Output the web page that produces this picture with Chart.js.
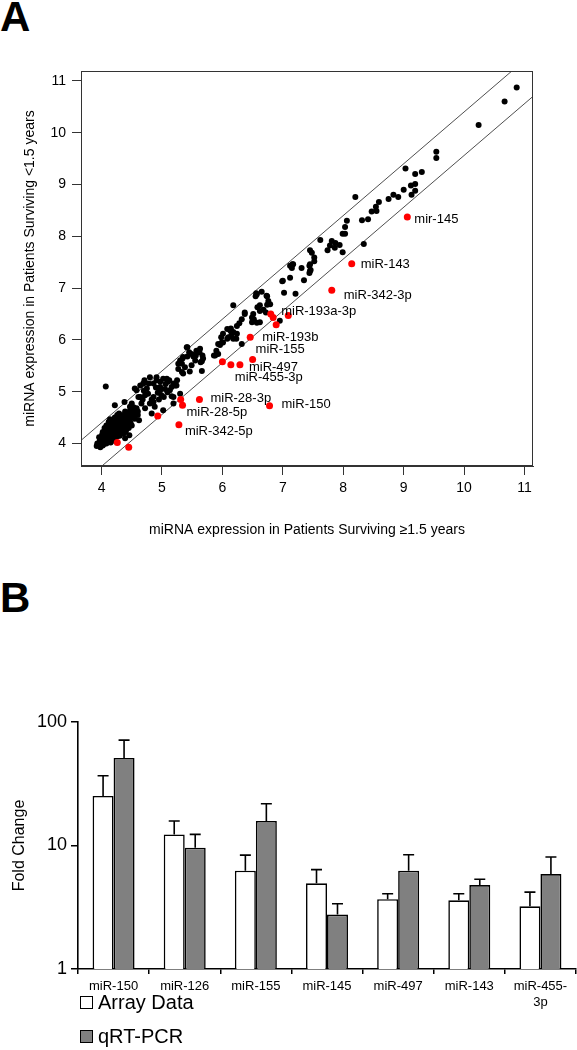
<!DOCTYPE html>
<html><head><meta charset="utf-8">
<script src="https://cdn.jsdelivr.net/npm/chart.js@4.4.0/dist/chart.umd.min.js"></script>
<style>
html,body{margin:0;padding:0;background:#fff;}
body{width:577px;height:1050px;position:relative;overflow:hidden;font-family:"Liberation Sans",Arial,sans-serif;}
.panel{position:absolute;left:0;font-weight:bold;font-size:42px;line-height:1;color:#000;}
#wa{position:absolute;left:0;top:0;width:577px;height:560px;}
#wb{position:absolute;left:0;top:560px;width:577px;height:490px;}
</style></head><body>
<div class="panel" style="top:-4px">A</div>
<div class="panel" style="top:577px">B</div>
<div id="wa"><canvas id="ca" width="577" height="560"></canvas></div>
<div id="wb"><canvas id="cb" width="577" height="490"></canvas></div>
<script>
// ---------- Panel A data ----------
const scatterTicks = [4, 5, 6, 7, 8, 9, 10, 11];
const bandOffsets = [0.4, -0.44];
const blackPoints = [
 [10.87,10.87],[10.67,10.60],[10.24,10.15],[9.54,9.63],[9.54,9.51],[9.03,9.31],[9.30,9.24],[9.19,9.20],[9.19,9.01],[9.19,8.88],
 [9.13,8.80],[9.12,8.98],[9.00,8.90],[8.91,8.76],[8.83,8.80],[8.75,8.72],[8.59,8.66],[8.54,8.57],[8.47,8.48],[8.55,8.49],
 [8.20,8.76],[8.41,8.33],[8.31,8.31],[8.06,8.30],[8.03,8.18],[7.99,8.05],[8.03,8.05],[8.34,7.85],[7.62,7.93],[7.81,7.91],
 [7.87,7.87],[7.78,7.82],[7.74,7.73],[7.94,7.83],[7.99,7.69],[7.45,7.73],[7.52,7.59],[7.86,7.78],
 [7.52,7.52],[7.45,7.46],[7.46,7.35],[7.44,7.29],[7.31,7.39],[7.16,7.46],[7.15,7.39],[7.12,7.20],[7.35,7.15],[6.99,7.13],
 [7.02,6.91],[7.21,6.89],[6.65,6.93],[6.56,6.90],[6.55,6.84],[6.74,6.84],[6.79,6.69],[6.74,6.68],[6.62,6.67],[6.18,6.67],
 [6.58,6.63],[6.62,6.56],[6.72,6.53],[6.49,6.43],[6.52,6.40],[6.37,6.50],[6.62,6.34],[6.57,6.33],[6.28,6.32],[6.24,6.27],
 [6.14,6.22],[6.08,6.21],[6.18,6.15],[6.15,6.10],[6.18,6.02],[6.08,6.02],[6.01,5.95],[5.96,5.90],[5.98,6.05],[5.93,5.92],
 [6.32,5.92],[6.23,6.02],[5.93,5.73],[5.88,5.70],[5.63,5.83],[5.57,5.79],[5.62,5.76],[5.67,5.70],[5.68,5.64],[5.56,5.70],
 [5.42,5.86],[5.45,5.76],[5.52,5.68],[5.42,5.68],[5.34,5.64],[5.33,5.54],[5.27,5.44],[5.33,5.38],[5.35,5.35],[5.64,5.57],
 [5.49,5.51],[5.46,5.39],[5.66,5.40],[5.66,5.59],[5.55,5.60],[5.49,5.73],[5.86,5.70],[5.90,5.79],[5.99,5.95],[6.01,6.12],
 [6.13,6.18],[6.10,6.05],[6.24,6.12],[6.32,6.40],[6.37,6.53],[6.51,6.50],[6.57,6.88],[6.73,6.85],[6.68,6.58],[6.76,6.75],
 [7.00,7.14],[7.12,7.43],[7.17,7.46],[7.44,7.43],[7.45,7.33],[7.48,7.68],[6.95,6.37],[6.49,6.34],
 [4.07,5.10],[4.22,4.74],[4.38,4.80],[4.50,4.77],[4.55,5.06],[4.64,5.12],[4.71,5.22],[4.78,5.16],[4.75,5.06],[4.86,5.16],
 [4.91,5.22],[4.97,5.09],[5.02,5.25],[5.10,5.19],[5.16,5.09],[5.22,5.12],[5.09,4.99],[4.99,4.93],[4.86,4.90],[4.72,4.93],
 [4.61,4.90],[4.66,4.77],[4.80,4.77],[4.72,4.68],[4.58,4.68],[4.88,4.71],[5.16,4.91],[5.19,4.77],[5.02,4.64],[4.83,4.58],
 [4.46,4.16],[4.39,4.10],[4.58,5.03],[4.69,5.16],[4.80,5.28],[4.91,5.28],[4.97,5.19],[5.08,5.25],[5.19,5.16],[5.24,5.12],
 [4.97,5.03],[4.77,4.96],[4.64,4.90],[4.47,4.71],[5.13,5.03],[5.03,4.90],[4.86,4.80],[5.19,4.90],[5.41,5.86],[5.35,5.67],
 [5.30,5.60],[5.38,5.47],[5.27,5.54],[5.30,4.96],
 [4.68,4.85],[4.83,4.85],[4.93,4.98],[5.05,5.05],[4.70,5.02],[4.90,5.08],[5.06,5.15],[4.95,4.85],[4.60,4.62],[4.53,4.70],
 [5.12,5.22],[5.25,5.22],
 [3.92,3.95],[3.95,3.98],[3.98,3.93],[4.00,4.00],[4.02,3.96],[4.05,4.02],[3.97,4.05],[4.00,4.08],[4.03,4.10],[4.06,4.05],
 [4.08,4.00],[4.10,4.07],[4.12,4.12],[4.08,4.15],[4.05,4.18],[4.02,4.13],[4.15,4.10],[4.18,4.15],[4.14,4.20],[4.10,4.22],
 [4.07,4.25],[4.20,4.20],[4.22,4.25],[4.18,4.28],[4.13,4.30],[4.10,4.33],[4.25,4.18],[4.28,4.22],[4.25,4.30],[4.20,4.34],
 [4.16,4.38],[4.30,4.28],[4.33,4.33],[4.28,4.37],[4.22,4.40],[4.18,4.45],[4.35,4.25],[4.38,4.30],[4.40,4.36],[4.35,4.40],
 [4.30,4.45],[4.25,4.48],[4.42,4.42],[4.45,4.47],[4.40,4.50],[4.33,4.52],[4.48,4.40],[4.50,4.50],[4.52,4.55],[4.47,4.57],
 [4.55,4.60],[4.12,4.40],[4.15,4.02],[4.20,4.08],[4.30,4.15],[4.40,4.22],[4.45,4.30],[4.50,4.35],[3.96,4.12],[4.02,4.22],
 [4.05,4.30],[4.08,4.35],[4.12,4.42],[4.26,4.55],[4.36,4.55],[4.55,4.48],[4.60,4.55],[4.62,4.45],
 [3.93,4.00],[3.99,4.02],[4.04,4.06],[4.07,4.10],[4.11,4.15],[4.15,4.18],[4.19,4.22],[4.23,4.27],[4.27,4.32],[4.31,4.37],
 [4.35,4.35],[4.38,4.45],[4.43,4.37],[4.46,4.52],[4.42,4.55],[4.14,4.26],[4.17,4.33],[4.21,4.37],[4.24,4.42],[4.29,4.41],
 [4.33,4.46],[4.37,4.48],[4.11,4.30],[4.06,4.14],[4.01,4.17],[3.97,3.99],[4.04,3.99],[4.09,4.03],[4.13,4.06],[4.17,4.05],
 [4.22,4.12],[4.26,4.14],[4.32,4.21],[4.36,4.19],[4.41,4.27],[4.26,4.24],[4.18,4.40],[4.14,4.47],[4.22,4.50],[4.29,4.58],
 [4.39,4.62],[4.47,4.63],[4.52,4.66]
];
const redPoints = [
 [9.06,8.37],[8.14,7.47],[7.81,6.96],[6.80,6.50],[6.84,6.43],[6.89,6.29],[7.09,6.47],[6.46,6.05],[6.50,5.62],[6.00,5.58],
 [6.14,5.52],[6.29,5.52],[5.62,4.85],[6.78,4.73],[5.31,4.85],[5.34,4.74],[5.28,4.36],[4.93,4.53],[4.26,4.02],[4.45,3.93]
];
const redLabels = [
 'mir-145','miR-143','miR-342-3p','','miR-193a-3p','','','miR-193b','miR-155','',
 'miR-455-3p','miR-497','miR-28-3p','miR-150','','miR-28-5p','miR-342-5p','','',''
];
// label placement (pixel offsets from the point) - style only
const labelOffsets = [
 [7,2],[9,1],[12,5],[0,0],[8,-6],[0,0],[0,0],[12,0],[3,-10],[0,0],
 [4,13],[9,3],[11,-1],[12,-1],[0,0],[4,7],[6,7],[0,0],[0,0],[0,0]
];

// ---------- Panel B data ----------
const categories = ['miR-150','miR-126','miR-155','miR-145','miR-497','miR-143','miR-455-3p'];
const arrayData = [25.2, 12.3, 6.25, 4.94, 3.67, 3.60, 3.22];
const arrayErrTop = [36.7, 15.8, 8.36, 6.38, 4.07, 4.07, 4.19];
const qpcrData = [51.2, 9.6, 15.8, 2.76, 6.25, 4.78, 5.87];
const qpcrErrTop = [71.3, 12.3, 21.8, 3.38, 8.41, 5.33, 8.07];
const barTicks = [1, 10, 100];
const seriesNames = ['Array Data', 'qRT-PCR'];

const F = "'Liberation Sans', Arial, Helvetica, sans-serif";
Chart.defaults.font.family = F;
Chart.defaults.color = '#000';

const boxPlugin = {
  id: 'box',
  afterDatasetsDraw(c) {
    const a = c.chartArea, ctx = c.ctx;
    ctx.save();
    ctx.strokeStyle = '#333';
    ctx.lineWidth = 1;
    ctx.strokeRect(Math.round(a.left) + 0.5, Math.round(a.top) + 0.5, Math.round(a.right - a.left) - 1, Math.round(a.bottom - a.top) - 1);
    ctx.restore();
  }
};
const labelPlugin = {
  id: 'redlabels',
  afterDraw(c) {
    const meta = c.getDatasetMeta(1), ctx = c.ctx;
    ctx.save();
    ctx.font = '13px ' + F;
    ctx.fillStyle = '#000';
    ctx.textBaseline = 'middle';
    ctx.textAlign = 'left';
    redLabels.forEach((t, i) => {
      if (!t) return;
      const el = meta.data[i];
      ctx.fillText(t, el.x + labelOffsets[i][0], el.y + labelOffsets[i][1]);
    });
    ctx.restore();
  }
};

new Chart(document.getElementById('ca'), {
  type: 'scatter',
  data: {
    datasets: [
      { label: 'miRNA', data: blackPoints.map(p => ({x: p[0], y: p[1]})), backgroundColor: '#000', borderColor: '#000', borderWidth: 0, pointRadius: 3, order: 1 },
      { label: 'selected', data: redPoints.map(p => ({x: p[0], y: p[1]})), backgroundColor: '#ff0000', borderColor: '#ff0000', borderWidth: 0, pointRadius: 3.5, order: 0 },
      ...bandOffsets.map(o => ({ type: 'line', label: 'band', data: [{x: 3, y: 3 + o}, {x: 12, y: 12 + o}], borderColor: '#222', borderWidth: 0.8, pointRadius: 0, fill: false, order: 2 }))
    ]
  },
  options: {
    responsive: false, animation: false, events: [],
    layout: { padding: { top: 71, right: 44, left: 0, bottom: 0 } },
    plugins: { legend: { display: false }, tooltip: { enabled: false } },
    scales: {
      x: {
        type: 'linear', min: 3.66, max: 11.14,
        afterBuildTicks: s => { s.ticks = scatterTicks.map(v => ({value: v})); },
        afterFit: s => { s.height = 94; },
        grid: { drawOnChartArea: false, drawTicks: true, tickLength: 9, color: '#333', lineWidth: 1 },
        border: { display: true, color: '#333', width: 1 },
        ticks: { font: { size: 14 }, color: '#000', padding: 5, maxRotation: 0, autoSkip: false },
        title: { display: true, text: 'miRNA expression in Patients Surviving ≥1.5 years', font: { size: 14 }, color: '#000', padding: { top: 0, bottom: 21 } }
      },
      y: {
        type: 'linear', min: 3.566, max: 11.19,
        afterBuildTicks: s => { s.ticks = scatterTicks.map(v => ({value: v})); },
        afterFit: s => { s.width = 81; },
        grid: { drawOnChartArea: false, drawTicks: true, tickLength: 9, color: '#333', lineWidth: 1 },
        border: { display: true, color: '#333', width: 1 },
        ticks: { font: { size: 14 }, color: '#000', padding: 6, autoSkip: false },
        title: { display: true, text: 'miRNA expression in Patients Surviving <1.5 years', font: { size: 14 }, color: '#000', padding: { top: 22, bottom: 0 } }
      }
    }
  },
  plugins: [boxPlugin, labelPlugin]
});

const errPlugin = {
  id: 'errbars',
  afterDatasetsDraw(c) {
    const ctx = c.ctx, ys = c.scales.y;
    ctx.save();
    ctx.strokeStyle = '#000';
    ctx.lineWidth = 1.6;
    [arrayErrTop, qpcrErrTop].forEach((err, di) => {
      const meta = c.getDatasetMeta(di);
      meta.data.forEach((bar, i) => {
        const yt = ys.getPixelForValue(err[i]);
        ctx.beginPath();
        ctx.moveTo(bar.x, bar.y);
        ctx.lineTo(bar.x, yt);
        ctx.moveTo(bar.x - 5.5, yt);
        ctx.lineTo(bar.x + 5.5, yt);
        ctx.stroke();
      });
    });
    ctx.restore();
  }
};
const legendPlugin = {
  id: 'vlegend',
  afterDraw(c) {
    const ctx = c.ctx;
    ctx.save();
    ctx.font = '20px ' + F;
    ctx.textBaseline = 'middle';
    ctx.textAlign = 'left';
    const rows = [443, 477];
    c.data.datasets.forEach((ds, i) => {
      const y = rows[i];
      ctx.fillStyle = ds.backgroundColor;
      ctx.fillRect(80.5, y - 6.5, 12, 12);
      ctx.strokeStyle = '#000';
      ctx.lineWidth = 1;
      ctx.strokeRect(80.5, y - 6.5, 12, 12);
      ctx.fillStyle = '#000';
      ctx.fillText(ds.label, 98, y);
    });
    ctx.restore();
  }
};

new Chart(document.getElementById('cb'), {
  type: 'bar',
  data: {
    labels: categories,
    datasets: [
      { label: seriesNames[0], data: arrayData, backgroundColor: '#ffffff', borderColor: '#000', borderWidth: 1.6, categoryPercentage: 0.59, barPercentage: 1.0 },
      { label: seriesNames[1], data: qpcrData, backgroundColor: '#808080', borderColor: '#000', borderWidth: 1.6, categoryPercentage: 0.59, barPercentage: 1.0 }
    ]
  },
  options: {
    responsive: false, animation: false, events: [],
    layout: { padding: { top: 162, right: 1, left: 0, bottom: 0 } },
    plugins: { legend: { display: false }, tooltip: { enabled: false } },
    scales: {
      x: {
        type: 'category',
        afterFit: s => { s.height = 81; },
        grid: { offset: true, drawOnChartArea: false, drawTicks: true, tickLength: 5, color: '#000', lineWidth: 1.5 },
        border: { display: true, color: '#000', width: 1.6 },
        ticks: {
          font: { size: 13 }, color: '#000', padding: 5, maxRotation: 0, autoSkip: false,
          callback: function(v, i) {
            const s = categories[i];
            if (s.length > 8) { const k = s.lastIndexOf('-'); return [s.slice(0, k + 1), s.slice(k + 1)]; }
            return s;
          }
        }
      },
      y: {
        type: 'logarithmic', min: 1, max: 100,
        afterBuildTicks: s => { s.ticks = barTicks.map(v => ({value: v})); },
        afterFit: s => { s.width = 78; },
        grid: { drawOnChartArea: false, drawTicks: true, tickLength: 7, color: '#000', lineWidth: 1.5 },
        border: { display: true, color: '#000', width: 1.6 },
        ticks: { font: { size: 18 }, color: '#000', padding: 4, autoSkip: false, callback: v => String(v) },
        title: { display: true, text: 'Fold Change', font: { size: 16 }, color: '#000', padding: { top: 10, bottom: 0 } }
      }
    }
  },
  plugins: [errPlugin, legendPlugin]
});
</script>
</body></html>
